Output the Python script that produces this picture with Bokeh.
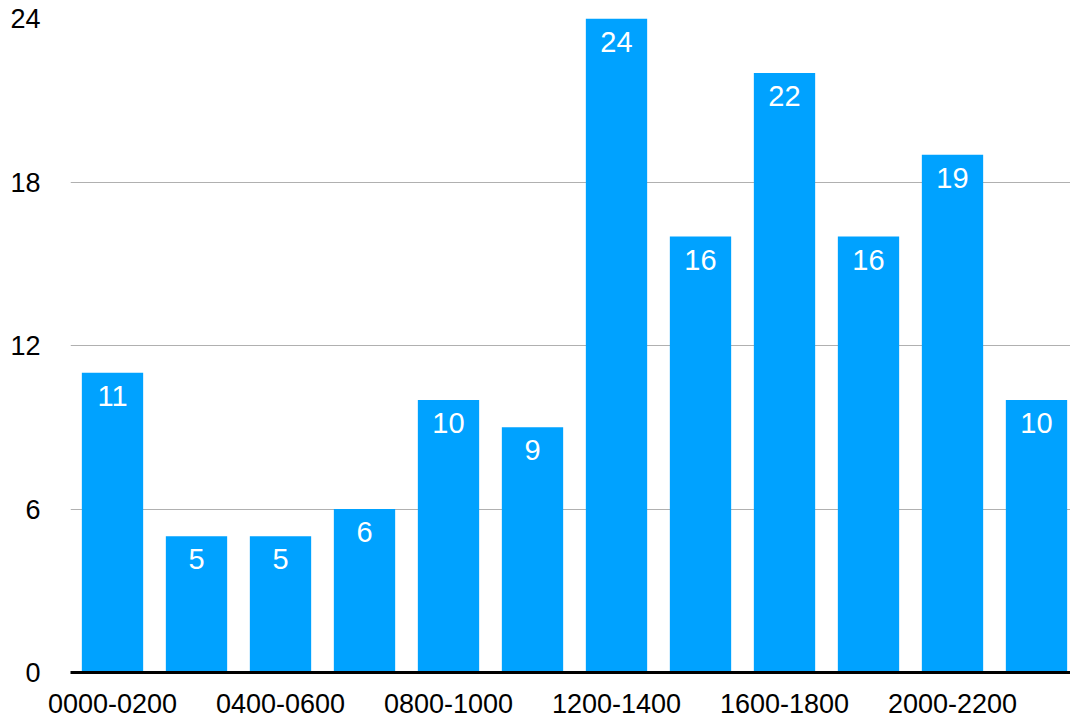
from bokeh.plotting import figure
from bokeh.models import ColumnDataSource, FixedTicker, Range1d, LabelSet
from bokeh.core.properties import value
from bokeh.embed import file_html
from bokeh.resources import INLINE

categories = ["0000-0200", "0200-0400", "0400-0600", "0600-0800", "0800-1000", "1000-1200",
              "1200-1400", "1400-1600", "1600-1800", "1800-2000", "2000-2200", "2200-2400"]
values = [11, 5, 5, 6, 10, 9, 24, 16, 22, 16, 19, 10]
y_ticks = [0, 6, 12, 18, 24]

xs = list(range(len(categories)))
src = ColumnDataSource(dict(x=xs, top=values, label=[str(v) for v in values], cat=categories))

FONT = "Liberation Sans"

p = figure(width=1070, height=721, output_backend="svg", toolbar_location=None,
           x_range=Range1d(-0.5, len(categories) - 0.5 - 8 / 84), y_range=Range1d(0, 24),
           min_border_left=70, min_border_right=0, min_border_top=18, min_border_bottom=49)
p.outline_line_color = None
p.background_fill_color = "white"
p.border_fill_color = "white"

p.vbar(x="x", top="top", width=0.73, bottom=0, source=src, fill_color="#00A2FF", line_color=None)

labels = LabelSet(x="x", y="top", text="label", source=src, text_color="white",
                  text_font=value(FONT), text_font_size="29px", text_align="center",
                  text_baseline="middle", y_offset=-23)
p.add_layout(labels)

# x axis
p.xaxis.ticker = FixedTicker(ticks=xs[::2])
p.xaxis.major_label_overrides = {x: categories[x] for x in xs[::2]}
p.xaxis.major_tick_line_color = None
p.xaxis.minor_tick_line_color = None
p.xaxis.axis_line_color = "black"
p.xaxis.axis_line_width = 3
p.xaxis.major_label_text_font = FONT
p.xaxis.major_label_text_font_size = "27px"
p.xaxis.major_label_text_color = "black"
p.xaxis.major_label_standoff = 15
p.xgrid.grid_line_color = None

# y axis
p.yaxis.ticker = FixedTicker(ticks=y_ticks)
p.yaxis.axis_line_color = None
p.yaxis.major_tick_line_color = None
p.yaxis.minor_tick_line_color = None
p.yaxis.major_label_text_font = FONT
p.yaxis.major_label_text_font_size = "27px"
p.yaxis.major_label_text_color = "black"
p.yaxis.major_label_standoff = 24
p.ygrid.grid_line_color = "#b0b0b0"
p.ygrid.grid_line_width = 1

open("out.html", "w").write(file_html(p, INLINE))
